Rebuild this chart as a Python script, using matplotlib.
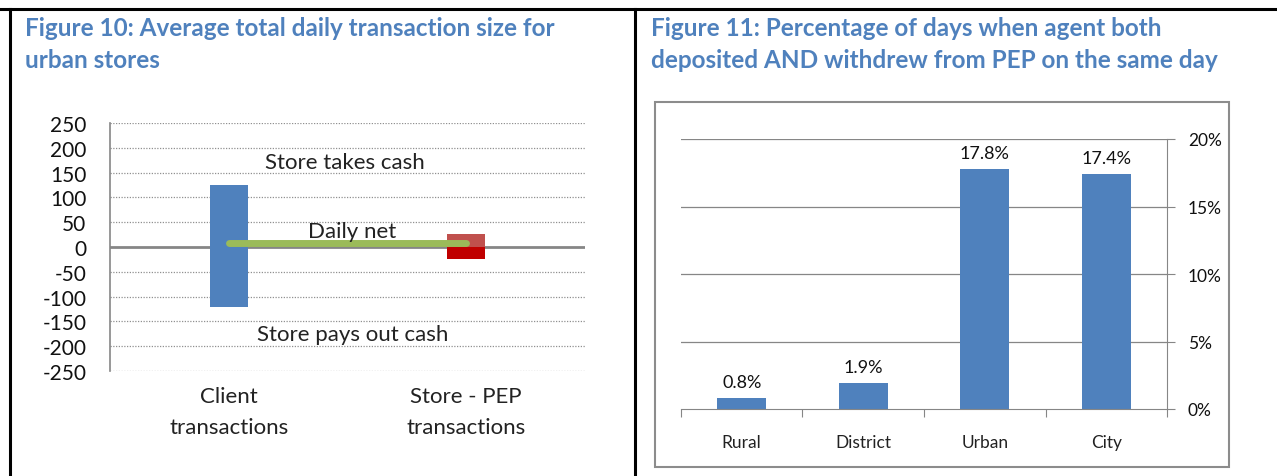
import matplotlib
matplotlib.use("Agg")
import matplotlib.pyplot as plt
from matplotlib.lines import Line2D
from matplotlib.patches import Rectangle

# ---- data ----
left_categories = ["Client\ntransactions", "Store - PEP\ntransactions"]
takes_cash = [125, 26]       # positive (store takes cash)
pays_out = [-120, -24]       # negative (store pays out cash)
daily_net = [8, 8]
left_yticks = [250, 200, 150, 100, 50, 0, -50, -100, -150, -200, -250]

right_categories = ["Rural", "District", "Urban", "City"]
right_values = [0.8, 1.9, 17.8, 17.4]
right_labels = ["0.8%", "1.9%", "17.8%", "17.4%"]
right_yticks = [0, 5, 10, 15, 20]

W, H = 1277, 477
fig = plt.figure(figsize=(W / 100, H / 100), dpi=100)
plt.rcParams['font.family'] = ['Lato', 'DejaVu Sans']

def fx(px):
    return px / W

def fy(py):
    return 1 - py / H

# borders
fig.add_artist(Line2D([0, 1], [fy(10), fy(10)], color='black', lw=2.2, transform=fig.transFigure))
fig.add_artist(Line2D([fx(10), fx(10)], [0, fy(10)], color='black', lw=2.2, transform=fig.transFigure))
fig.add_artist(Line2D([fx(635), fx(635)], [0, fy(10)], color='black', lw=2.2, transform=fig.transFigure))

title_color = '#4F81BD'
tfs = 17.5
fig.text(fx(25), fy(28), "Figure 10: Average total daily transaction size for",
         color=title_color, fontsize=tfs, fontweight='bold', va='center', ha='left')
fig.text(fx(25), fy(60), "urban stores",
         color=title_color, fontsize=tfs, fontweight='bold', va='center', ha='left')
fig.text(fx(651), fy(28), "Figure 11: Percentage of days when agent both",
         color=title_color, fontsize=tfs, fontweight='bold', va='center', ha='left')
fig.text(fx(651), fy(60), "deposited AND withdrew from PEP on the same day",
         color=title_color, fontsize=tfs, fontweight='bold', va='center', ha='left')

# ---- left chart ----
axl = fig.add_axes([fx(110), fy(372), fx(585) - fx(110), fy(124) - fy(372)])
x = [0, 1]
axl.set_xlim(-0.5, 1.5)
axl.set_ylim(-250, 250)
for v in left_yticks:
    if v != 0:
        axl.axhline(v, color='#909090', lw=0.9, ls=(0, (1, 1.2)), zorder=0)
axl.bar(x[0], takes_cash[0], width=0.16, color='#4F81BD', zorder=2)
axl.bar(x[0], pays_out[0], width=0.16, color='#4F81BD', zorder=2)
axl.bar(x[1], takes_cash[1], width=0.16, color='#C0504D', zorder=2)
axl.bar(x[1], pays_out[1], width=0.16, color='#C00000', zorder=2)
axl.axhline(0, color='#868686', lw=2, zorder=1)
axl.plot(x, daily_net, color='#9BBB59', lw=5, solid_capstyle='round', zorder=3)
lfs = 16
axl.text(0.49, 172, "Store takes cash", ha='center', va='center', fontsize=lfs, color='#222222')
axl.text(0.52, 33, "Daily net", ha='center', va='center', fontsize=lfs, color='#222222')
axl.text(0.52, -175, "Store pays out cash", ha='center', va='center', fontsize=lfs, color='#222222')
for s in ['top', 'right', 'bottom']:
    axl.spines[s].set_visible(False)
axl.spines['left'].set_color('#868686')
axl.spines['left'].set_linewidth(1.2)
axl.set_yticks(left_yticks)
axl.set_yticklabels([str(v) for v in left_yticks])
axl.tick_params(axis='y', length=0, labelsize=15, pad=17, labelcolor='#111111')
axl.set_xticks(x)
axl.set_xticklabels(left_categories, fontsize=16, linespacing=1.7, color='#222222')
axl.tick_params(axis='x', length=0, pad=11)

# ---- right chart ----
fig.add_artist(Rectangle((fx(655), fy(468)), fx(1229) - fx(655), fy(103) - fy(468),
                         fill=False, edgecolor='#8C8C8C', lw=1.5, transform=fig.transFigure))
axr = fig.add_axes([fx(681), fy(410), fx(1167) - fx(681), fy(140) - fy(410)])
xr = list(range(len(right_categories)))
axr.set_xlim(-0.5, len(right_categories) - 0.5)
axr.set_ylim(0, 20)
for v in right_yticks[1:]:
    axr.axhline(v, color='#868686', lw=0.9, zorder=0)
axr.bar(xr, right_values, width=0.4, color='#4F81BD', zorder=2)
for xi, v, lab in zip(xr, right_values, right_labels):
    axr.text(xi, v + 0.6, lab, ha='center', va='bottom', fontsize=13, color='#111111')
for s in ['top', 'left']:
    axr.spines[s].set_visible(False)
axr.spines['right'].set_color('#868686')
axr.spines['bottom'].set_color('#868686')
axr.yaxis.tick_right()
axr.set_yticks(right_yticks)
axr.set_yticklabels([f"{v}%" for v in right_yticks])
axr.tick_params(axis='y', length=6, color='#868686', labelsize=12.5, pad=9, labelcolor='#111111')
axr.set_xticks([i - 0.5 for i in range(len(right_categories) + 1)], minor=False)
axr.set_xticklabels([])
axr.set_xticks(xr, minor=True)
axr.set_xticklabels(right_categories, minor=True, fontsize=12.5, color='#222222')
axr.tick_params(axis='x', which='major', length=6, color='#868686', direction='out')
axr.tick_params(axis='x', which='minor', length=0, pad=18)

fig.savefig("out.png", dpi=100)
